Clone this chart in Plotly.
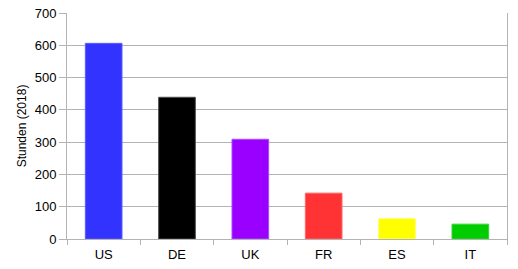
import plotly.graph_objects as go

countries = ["US", "DE", "UK", "FR", "ES", "IT"]
hours = [606, 439, 309, 142, 63, 46]
colors = ["#3333ff", "#000000", "#9900ff", "#ff3333", "#ffff00", "#00cc00"]
borders = ["#5c5cff", "#4d4d4d", "#a84dff", "#ff6666", "#ffff66", "#33d633"]

fig = go.Figure(go.Bar(
    x=countries, y=hours,
    marker=dict(color=colors, line=dict(color=borders, width=1)),
    width=0.5,
))

gridc = "#b3b3b3"
fig.update_layout(
    width=518, height=269,
    margin=dict(l=67, r=11, t=13, b=30, pad=0, autoexpand=False),
    paper_bgcolor="white", plot_bgcolor="white",
    font=dict(family="Liberation Sans, Arial, sans-serif", size=13, color="black"),
    showlegend=False,
)
fig.update_xaxes(
    automargin=False,
    showline=True, linecolor=gridc, linewidth=1,
    ticks="outside", tickson="boundaries", ticklen=5, tickcolor=gridc,
    showgrid=False, tickfont=dict(size=13), ticklabelstandoff=3,
)
fig.update_yaxes(
    automargin=False,
    range=[0, 700], dtick=100,
    showline=True, mirror=True, linecolor=gridc, linewidth=1,
    showgrid=True, gridcolor=gridc, gridwidth=1,
    ticks="outside", ticklen=7, tickcolor=gridc,
    zeroline=False, tickfont=dict(size=13),
    title=dict(text="Stunden (2018)", font=dict(size=12), standoff=5),
)
fig.write_html("out.html")
